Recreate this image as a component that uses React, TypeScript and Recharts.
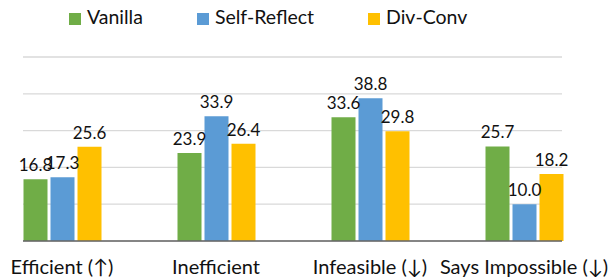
import { Bar, BarChart, CartesianGrid, LabelList, Legend, XAxis, YAxis } from "recharts";

const FONT = "Lato, 'Open Sans', sans-serif";

const categories = ["Efficient (↑)", "Inefficient", "Infeasible (↓)", "Says Impossible (↓)"];
const vanilla = [16.8, 23.9, 33.6, 25.7];
const selfReflect = [17.3, 33.9, 38.8, 10.0];
const divConv = [25.6, 26.4, 29.8, 18.2];
const yTicks = [0, 10, 20, 30, 40, 50];

const SERIES = [
  { key: "vanilla", name: "Vanilla", color: "#70AD47" },
  { key: "selfReflect", name: "Self-Reflect", color: "#5B9BD5" },
  { key: "divConv", name: "Div-Conv", color: "#FFC000" },
];

const data = categories.map((name, i) => ({
  name,
  vanilla: vanilla[i],
  selfReflect: selfReflect[i],
  divConv: divConv[i],
}));

function TopLegend() {
  return (
    <div style={{ display: "flex", alignItems: "center", paddingLeft: 69, paddingTop: 7, fontFamily: FONT, fontSize: 19.5, lineHeight: "20px", color: "#111" }}>
      {SERIES.map((s) => (
        <div key={s.key} style={{ display: "flex", alignItems: "center", marginRight: 54 }}>
          <span style={{ width: 12, height: 12, background: s.color, marginRight: 6, position: "relative", top: 2 }} />
          <span>{s.name}</span>
        </div>
      ))}
    </div>
  );
}

export default function App() {
  return (
    <div style={{ position: "absolute", left: 0, top: 0, width: 609, height: 277, background: "#fff" }}>
      <BarChart
        width={609}
        height={277}
        data={data}
        margin={{ top: 57, right: 47, left: 23, bottom: 0 }}
        barCategoryGap="25%"
        barGap={3}
      >
        <CartesianGrid vertical={false} stroke="#D9D9D9" strokeWidth={1.3} />
        <YAxis hide domain={[0, 50]} ticks={yTicks} />
        <XAxis
          dataKey="name"
          interval={0}
          height={36}
          padding={{ left: -38, right: -39 }}
          tickLine={false}
          tickMargin={13}
          axisLine={{ stroke: "#666", strokeWidth: 1.3 }}
          tick={{ fill: "#111", fontSize: 20, fontFamily: FONT }}
        />
        <Legend
          verticalAlign="middle"
          layout="horizontal"
          align="center"
          wrapperStyle={{ top: 0, left: 0, width: 609 }}
          content={<TopLegend />}
        />
        {SERIES.map((s) => (
          <Bar key={s.key} dataKey={s.key} name={s.name} fill={s.color} isAnimationActive={false}>
            <LabelList dataKey={s.key} position="top" offset={8} fill="#111" fontSize={17} fontFamily={FONT} formatter={(v: unknown) => Number(v).toFixed(1)} />
          </Bar>
        ))}
      </BarChart>
    </div>
  );
}
